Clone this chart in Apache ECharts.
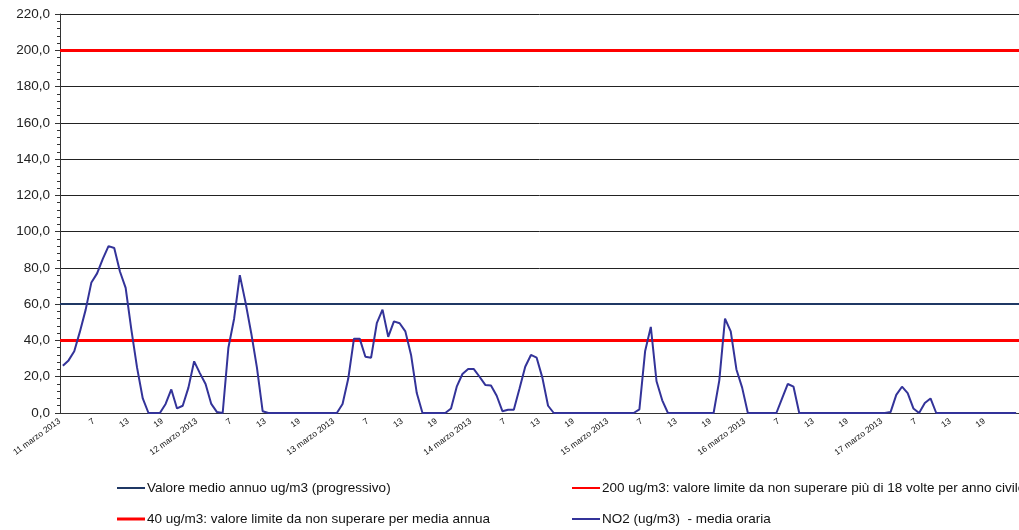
<!DOCTYPE html>
<html>
<head>
<meta charset="utf-8">
<script src="https://cdn.jsdelivr.net/npm/echarts@6/dist/echarts.min.js"></script>
<style>
html,body{margin:0;padding:0;background:#fff;}
#chart{width:1019px;height:530px;}
</style>
</head>
<body>
<div id="chart"></div>
<script>
// Day labels (first hour of each day carries the date)
var days = ['11 marzo 2013','12 marzo 2013','13 marzo 2013','14 marzo 2013','15 marzo 2013','16 marzo 2013','17 marzo 2013'];
var hoursPerDay = 24;

// NO2 hourly means (ug/m3), 11-17 March 2013
var no2Day1 = [26,29,34,45,57,72,77,85,92,91,78,69,46,25,8,0,0,0,5,13,2.5,4,14,28.5];
var no2Day2 = [22,16,5,0.5,0,36,52,76,61,44,25,1,0,0,0,0,0,0,0,0,0,0,0,0];
var no2Day3 = [0,5,19,41,41,31,30.5,49.5,57,42,50.5,49.5,45,32,11,0,0,0,0,0,2.5,14.5,21.5,24.2];
var no2Day4 = [24.2,20,15.5,15.2,9.5,1,1.8,1.8,13.5,25.5,32,30.5,19.5,4,0,0,0,0,0,0,0,0,0,0];
var no2Day5 = [0,0,0,0,0,2,34,47.5,17.5,7,0,0,0,0,0,0,0,0,0,18,52,45,24,14];
var no2Day6 = [0,0,0,0,0,0,8,16,14.5,0,0,0,0,0,0,0,0,0,0,0,0,0,0,0];
var no2Day7 = [0,0.5,10,14.5,11,2.5,0,5.5,8,0,0,0,0,0,0,0,0,0,0,0,0,0,0,0];

// Reference lines
var annualMean = 60;
var limitHourly = 200;
var limitAnnual = 40;

// Y axis
var yMin = 0, yMax = 220, yStep = 20;

var seriesNames = [
  'Valore medio annuo ug/m3 (progressivo)',
  '200 ug/m3: valore limite da non superare più di 18 volte per anno civile',
  '40 ug/m3: valore limite da non superare per media annua',
  'NO2 (ug/m3)  - media oraria'
];

var categories = [];
days.forEach(function(d){
  for (var h = 1; h <= hoursPerDay; h++) categories.push(h === 1 ? d : String(h));
});
var no2 = [].concat(no2Day1, no2Day2, no2Day3, no2Day4, no2Day5, no2Day6, no2Day7);

var chart = echarts.init(document.getElementById('chart'), null, {renderer:'canvas'});
var legendFont = {fontFamily:'"Liberation Sans", Arial, sans-serif', fontSize:13.5, color:'#111'};
function mk(name, left, top, h){
  return {data:[name], left:left, top:top, icon:'rect', itemWidth:28, itemHeight:h, itemGap:0,
          padding:0, textStyle:Object.assign({padding:[0,0,0,-3]}, legendFont), selectedMode:false};
}
function refLine(name, value, color, width, z){
  return {name:name, type:'line', data:[], z:z, color:color,
    lineStyle:{color:color, width:width}, itemStyle:{color:color}, symbol:'none',
    markLine:{silent:true, symbol:['none','none'], label:{show:false},
      lineStyle:{color:color, width:width, type:'solid'}, data:[{yAxis:value}], animation:false}};
}

chart.setOption({
  animation:false,
  backgroundColor:'#ffffff',
  grid:{left:60, top:14, width:973, height:399},
  legend:[
    mk(seriesNames[0], 117, 481, 2),
    mk(seriesNames[1], 572, 481, 2),
    mk(seriesNames[2], 117, 512, 3),
    mk(seriesNames[3], 572, 512, 2)
  ],
  xAxis:{
    type:'category', data:categories, boundaryGap:true,
    axisLine:{lineStyle:{color:'#333', width:1}},
    axisTick:{interval:5, length:4, lineStyle:{color:'#333'}},
    axisLabel:{interval:5, rotate:36, fontSize:8.5, color:'#111', margin:5,
      padding:[0,4,0,0], fontFamily:'Arial, "Liberation Sans", sans-serif'},
    splitLine:{show:false}
  },
  yAxis:{
    type:'value', min:yMin, max:yMax, interval:yStep,
    axisLine:{show:true, lineStyle:{color:'#333', width:1}},
    axisTick:{show:true, length:5, lineStyle:{color:'#333'}},
    minorTick:{show:true, splitNumber:5, length:3, lineStyle:{color:'#333'}},
    axisLabel:{color:'#222', fontSize:13.5, margin:10, fontFamily:'Arial, "Liberation Sans", sans-serif',
      formatter:function(v){ return v.toFixed(1).replace('.', ','); }},
    splitLine:{show:true, lineStyle:{color:'#222', width:1}}
  },
  series:[
    refLine(seriesNames[0], annualMean, '#1F3864', 2, 2),
    refLine(seriesNames[1], limitHourly, '#FF0000', 3, 3),
    refLine(seriesNames[2], limitAnnual, '#FF0000', 3, 4),
    {name:seriesNames[3], type:'line', data:no2, z:5, symbol:'none', color:'#333399',
      lineStyle:{color:'#333399', width:2}, itemStyle:{color:'#333399'}}
  ]
});
</script>
</body>
</html>
